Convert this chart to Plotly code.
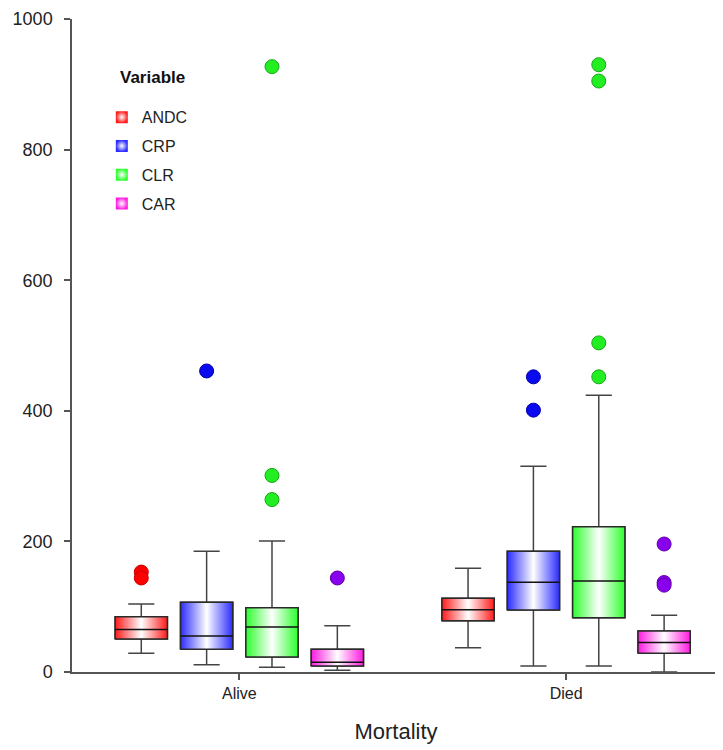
import plotly.graph_objects as go

# ---------------- data ----------------
groups = ["Alive", "Died"]
variables = ["ANDC", "CRP", "CLR", "CAR"]

q1 = {"ANDC": [50.5, 78.6], "CRP": [35.0, 95.0], "CLR": [23.0, 83.0], "CAR": [9.0, 28.6]}
median = {"ANDC": [65.0, 95.4], "CRP": [55.0, 137.5], "CLR": [69.0, 139.5], "CAR": [15.0, 45.0]}
q3 = {"ANDC": [84.7, 112.8], "CRP": [106.7, 185.0], "CLR": [98.5, 222.6], "CAR": [34.7, 62.8]}
lowerfence = {"ANDC": [28.6, 37.2], "CRP": [11.2, 9.2], "CLR": [7.2, 9.2], "CAR": [2.6, 0.0]}
upperfence = {"ANDC": [104.0, 158.8], "CRP": [184.8, 315.0], "CLR": [200.6, 424.0], "CAR": [71.0, 86.8]}

outliers = {
    "ANDC": [[153.0, 144.0], []],
    "CRP": [[461.0], [452.0, 401.0]],
    "CLR": [[927.0, 301.0, 264.0], [930.0, 905.0, 504.0, 452.0]],
    "CAR": [[144.0], [196.0, 137.0, 133.0]],
}

y_ticks = [0, 200, 400, 600, 800, 1000]

# ---------------- styling ----------------
box_color = {"ANDC": "#ff1a1a", "CRP": "#2b2bff", "CLR": "#2bff2b", "CAR": "#ff1ae0"}
pt_color = {"ANDC": "#ff0000", "CRP": "#0a0aee", "CLR": "#22ee22", "CAR": "#8800ee"}
pt_line = {"ANDC": "#c80000", "CRP": "#0000a8", "CLR": "#14a814", "CAR": "#6000a8"}
offsets = {"ANDC": -0.3, "CRP": -0.1, "CLR": 0.1, "CAR": 0.3}
bw = 0.16
EDGE = "#2a2a2a"
WHISK = "#444444"
FONT = "Liberation Sans, Arial, sans-serif"

fig = go.Figure()

for v in variables:
    c = box_color[v]
    for gi, g in enumerate(groups):
        xc = gi + offsets[v]
        x0, x1 = xc - bw / 2, xc + bw / 2
        # whiskers (box trace, drawn beneath the gradient body)
        fig.add_trace(go.Box(
            x=[xc], q1=[q1[v][gi]], median=[median[v][gi]], q3=[q3[v][gi]],
            lowerfence=[lowerfence[v][gi]], upperfence=[upperfence[v][gi]],
            width=bw, whiskerwidth=0.5, boxpoints=False,
            fillcolor="rgba(0,0,0,0)", line=dict(color=WHISK, width=1.5),
            showlegend=False, hoverinfo="skip",
        ))
        # gradient filled box body with outline
        fig.add_trace(go.Scatter(
            x=[x0, x1, x1, x0, x0],
            y=[q1[v][gi], q1[v][gi], q3[v][gi], q3[v][gi], q1[v][gi]],
            mode="lines", fill="toself", line=dict(width=1.5, color=EDGE),
            fillgradient=dict(type="horizontal",
                              colorscale=[[0, c], [0.5, "#ffffff"], [1, c]]),
            showlegend=False, hoverinfo="skip",
        ))
        # median line
        fig.add_trace(go.Scatter(
            x=[x0, x1], y=[median[v][gi], median[v][gi]], mode="lines",
            line=dict(width=1.5, color="#111111"),
            showlegend=False, hoverinfo="skip",
        ))
        pts = outliers[v][gi]
        if pts:
            fig.add_trace(go.Scatter(
                x=[xc] * len(pts), y=pts, mode="markers",
                marker=dict(size=14, color=pt_color[v],
                            line=dict(color=pt_line[v], width=1)),
                showlegend=False, hoverinfo="skip",
            ))

# legend entries
for v in variables:
    fig.add_trace(go.Scatter(
        x=[None], y=[None], mode="markers", name=v, legendgroup=v,
        marker=dict(symbol="square", size=12, color=box_color[v],
                    gradient=dict(type="radial", color="#ffffff"), line=dict(width=0)),
    ))

fig.add_annotation(
    text="<b>Variable</b>", xref="paper", yref="paper",
    x=0.071, y=0.9097, xanchor="left", yanchor="middle", showarrow=False,
    font=dict(family=FONT, size=17, color="#111111"),
)

axis_line = dict(showline=True, linecolor="#555555", linewidth=1.5, ticks="outside",
                 ticklen=6, tickcolor="#555555", tickwidth=1.5, showgrid=False,
                 zeroline=False, automargin=False)

# page body has an 8px margin, so the figure is sized to fit the 723x750 window
fig.update_layout(
    width=715, height=742,
    margin=dict(l=64, r=3, t=11, b=78),
    plot_bgcolor="white", paper_bgcolor="white",
    boxmode="overlay",
    font=dict(family=FONT, color="#222222"),
    xaxis=dict(range=[-0.512, 1.471], tickvals=[0, 1], ticktext=groups,
               tickfont=dict(size=16), title=dict(text="Mortality", font=dict(size=22), standoff=23),
               **axis_line),
    yaxis=dict(range=[0, 1000], tickvals=y_ticks, tickfont=dict(size=18),
               ticklabelstandoff=8, **axis_line),
    legend=dict(x=0.046, y=0.8756, xanchor="left", yanchor="top",
                bgcolor="rgba(0,0,0,0)", traceorder="grouped", tracegroupgap=5,
                font=dict(family=FONT, size=16, color="#222222")),
    showlegend=True,
)

fig.write_html("out.html")
